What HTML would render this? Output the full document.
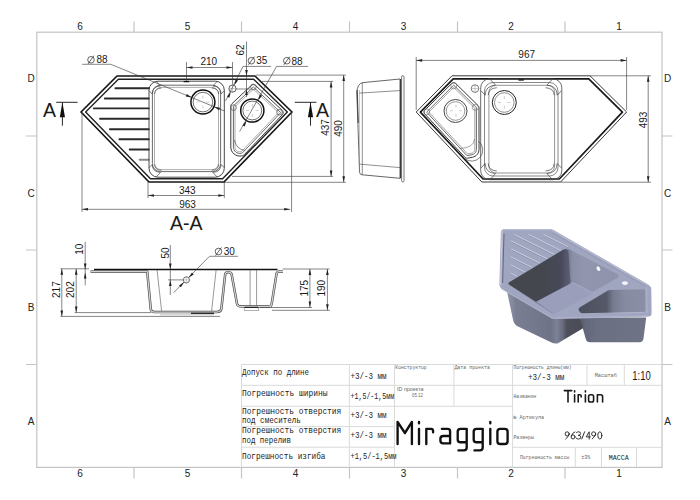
<!DOCTYPE html>
<html><head><meta charset="utf-8"><style>
html,body{margin:0;padding:0;background:#fff;}
svg{display:block;}
text{font-family:"Liberation Sans",sans-serif;}
.mono text{font-family:"Liberation Mono",monospace;}
</style></head><body>
<svg width="700" height="500" viewBox="0 0 700 500">
<rect width="700" height="500" fill="#fff"/>
<!-- frame -->
<g stroke="#c4c4c4" stroke-width="1.2" fill="none">
<rect x="36.8" y="32.2" width="625.2" height="435.2"/>
<path d="M134 21.5V32.2M241.5 21.5V32.2M349.5 21.5V32.2M457.5 21.5V32.2M565 21.5V32.2"/>
<path d="M134 467.4V478.5M241.5 467.4V478.5M349.5 467.4V478.5M457.5 467.4V478.5M565 467.4V478.5"/>
<path d="M26 136H36.8M26 250H36.8M26 364.5H36.8"/>
<path d="M662 136H672.5M662 250H672.5M662 364.5H672.5"/>
</g>
<g fill="#222" font-size="10" text-anchor="middle">
<text x="80" y="30.4">6</text><text x="187.5" y="30.4">5</text><text x="295.5" y="30.4">4</text>
<text x="403.5" y="30.4">3</text><text x="511" y="30.4">2</text><text x="619" y="30.4">1</text>
<text x="80" y="476.8">6</text><text x="187.5" y="476.8">5</text><text x="295.5" y="476.8">4</text>
<text x="403.5" y="476.8">3</text><text x="511" y="476.8">2</text><text x="619" y="476.8">1</text>
<text x="31.2" y="81.8">D</text><text x="31.2" y="196.5">C</text><text x="31.2" y="311">B</text><text x="31.2" y="425">A</text>
<text x="667.6" y="81.8">D</text><text x="667.6" y="196.5">C</text><text x="667.6" y="311">B</text><text x="667.6" y="425">A</text>
</g>

<!-- title block -->
<g stroke="#dadada" stroke-width="1" fill="none">
<path d="M241.5 364.5H662M241.5 385.3H662M241.5 406.3H512.6M241.5 426.6H394.5M241.5 447.2H394.5M512.6 447.3H662"/>
<path d="M241.5 364.5V467.4M349.4 364.5V467.4M394.5 364.5V467.4M453.9 364.5V406.3M512.6 364.5V467.4M587 364.5V385.3M624.3 364.5V385.3M575.3 447.3V467.4M601.5 447.3V467.4M636.5 447.3V467.4"/>
</g>
<g class="mono" fill="#222" font-size="8.4">
<text x="242" y="375.1" textLength="67" lengthAdjust="spacingAndGlyphs">Допуск по длине</text>
<text x="242" y="395.7" textLength="85.5" lengthAdjust="spacingAndGlyphs">Погрешность ширины</text>
<text x="242" y="414.2" textLength="99.3" lengthAdjust="spacingAndGlyphs">Погрешность отверстия</text>
<text x="242" y="422.9" textLength="58.9" lengthAdjust="spacingAndGlyphs">под смеситель</text>
<text x="242" y="433.1" textLength="99.3" lengthAdjust="spacingAndGlyphs">Погрешность отверстия</text>
<text x="242" y="442.7" textLength="49" lengthAdjust="spacingAndGlyphs">под перелив</text>
<text x="242" y="459" textLength="83.5" lengthAdjust="spacingAndGlyphs">Погрешность изгиба</text>
<text x="350.5" y="378.6" textLength="36" lengthAdjust="spacingAndGlyphs">+3/-3 мм</text>
<text x="350.5" y="399.2" textLength="43.7" lengthAdjust="spacingAndGlyphs">+1,5/-1,5мм</text>
<text x="350.5" y="418.3" textLength="36" lengthAdjust="spacingAndGlyphs">+3/-3 мм</text>
<text x="350.5" y="438.2" textLength="36" lengthAdjust="spacingAndGlyphs">+3/-3 мм</text>
<text x="350.5" y="459" textLength="46" lengthAdjust="spacingAndGlyphs">+1,5/-1,5мм</text>
<text x="527.9" y="379.8" textLength="36.5" lengthAdjust="spacingAndGlyphs">+3/-3 мм</text>
<text x="608.8" y="459.9" font-size="7.2" textLength="20" lengthAdjust="spacingAndGlyphs">МАССА</text>
</g><path d="M397.6,444V421.9L404.9,433L411.9,421.9V444M419,428.8V444M419,421.9V423.3M426.3,444V428.8H431Q433.1,428.8 433.1,431V432.2M441.9,428.8H447.6Q450.1,428.8 450.1,431.3V443.4H443.2Q440.4,443.4 440.4,440.6V438.8Q440.4,436 443.2,436H450.1M466.7,442.2H460.5Q457.7,442.2 457.7,439.4V431.6Q457.7,428.8 460.5,428.8H466.7V447.6Q466.7,450.4 463.9,450.4H458.5M482.7,442.2H476.5Q473.7,442.2 473.7,439.4V431.6Q473.7,428.8 476.5,428.8H482.7V447.6Q482.7,450.4 479.9,450.4H474.5M490.3,428.8V444M490.3,421.9V423.3M500.2,428.8H504.8Q507.6,428.8 507.6,431.6V441.2Q507.6,444 504.8,444H500.2Q497.4,444 497.4,441.2V431.6Q497.4,428.8 500.2,428.8Z" fill="none" stroke="#111" stroke-width="2.35" stroke-linecap="round" stroke-linejoin="round"/><g class="mono" fill="#222" font-size="8.4">
</g>
<g class="mono" fill="#666" font-size="4.8">
<text x="395.3" y="368.8" textLength="31.4" lengthAdjust="spacingAndGlyphs">Конструктор</text>
<text x="454.4" y="368.8" textLength="35.5" lengthAdjust="spacingAndGlyphs">Дата проекта</text>
<text x="513.4" y="369.3" textLength="58.2" lengthAdjust="spacingAndGlyphs">Погрешность длины(мм)</text>
<text x="594.7" y="376.9" textLength="22.3" lengthAdjust="spacingAndGlyphs">Масштаб</text>
<text x="513.4" y="398" textLength="23" lengthAdjust="spacingAndGlyphs">Название</text>
<text x="513.4" y="418.6" textLength="30.8" lengthAdjust="spacingAndGlyphs">№ Артикула</text>
<text x="513.4" y="439.3" textLength="20.6" lengthAdjust="spacingAndGlyphs">Размеры</text>
<text x="519.9" y="459.2" textLength="49.3" lengthAdjust="spacingAndGlyphs">Погрешность массы</text>
<text x="581.3" y="459.2" textLength="9" lengthAdjust="spacingAndGlyphs">±3%</text>
</g>
<path d="M564.3,390.6H571.8M568,390.6V402M574.6,394.8V402M574.6,390.7V391.9M578.2,402V394.8H579.9Q581.2,394.8 581.2,396.1V396.9M585.4,394.8V402M585.4,390.7V391.9M590.4,394.8H591.8Q593.6,394.8 593.6,396.6V400.2Q593.6,402 591.8,402H590.4Q588.6,402 588.6,400.2V396.6Q588.6,394.8 590.4,394.8ZM597.4,402V394.8H600.8Q602.6,394.8 602.6,396.6V402" fill="none" stroke="#1a1a1a" stroke-width="1.6" stroke-linecap="round" stroke-linejoin="round"/>
<text x="632.3" y="379.8" font-size="13.6" textLength="18.5" lengthAdjust="spacingAndGlyphs" fill="#1a1a1a">1:10</text>
<path d="M569.20,433.9A2.05,2.1 0 1 0 565.10,433.9A2.05,2.1 0 1 0 569.20,433.9ZM569.15,434.4Q568.70,436.8 565.70,439M574.9,431.9Q572,432.6 571.3,436.3M575,436.9A1.95,2.05 0 1 0 571.1,436.9A1.95,2.05 0 1 0 575,436.9ZM576.5,432.5Q577.3,431.8 578.6,431.8Q580.6,431.8 580.6,433.5Q580.6,435.2 578.2,435.3Q580.9,435.4 580.9,437.2Q580.9,439 578.5,439Q577.1,439 576.2,438.2M581.8,439L584.6,431.8M589.2,439V431.8L586.2,436.9H590.4M595.70,433.9A2.05,2.1 0 1 0 591.60,433.9A2.05,2.1 0 1 0 595.70,433.9ZM595.65,434.4Q595.20,436.8 592.20,439M601.9,435.4A2.05,3.6 0 1 0 597.8,435.4A2.05,3.6 0 1 0 601.9,435.4Z" fill="none" stroke="#2a2a2a" stroke-width="0.95" stroke-linecap="round" stroke-linejoin="round"/>
<text x="397" y="391" font-size="5.4" textLength="26.6" lengthAdjust="spacingAndGlyphs" fill="#666">ID проекта</text>
<text x="412" y="397.3" font-size="5.4" textLength="10.8" lengthAdjust="spacingAndGlyphs" fill="#666">05.12</text>

<path d="M117,76 L255,76 L292,112 L224,182 L149,182 L81,112Z" fill="none" stroke="#151515" stroke-width="1.7" stroke-linejoin="round"/>
<path d="M118.37,79.3 L85.63,112.03 L150.4,178.7 L222.6,178.7 L287.34,112.07 L253.66,79.3Z" fill="none" stroke="#222" stroke-width="1.4" stroke-linejoin="round"/>
<path d="M115.4,88.3H148.8" stroke="#2a2a2a" stroke-width="1.9" stroke-linecap="round"/>
<path d="M104.8,98.5H148.8" stroke="#2a2a2a" stroke-width="1.9" stroke-linecap="round"/>
<path d="M93.8,108.4H148.8" stroke="#2a2a2a" stroke-width="1.9" stroke-linecap="round"/>
<path d="M100,118.7H148.8" stroke="#2a2a2a" stroke-width="1.9" stroke-linecap="round"/>
<path d="M109.9,129.3H148.8" stroke="#2a2a2a" stroke-width="1.9" stroke-linecap="round"/>
<path d="M119.4,139.2H148.8" stroke="#2a2a2a" stroke-width="1.9" stroke-linecap="round"/>
<path d="M129.7,149.5H148.8" stroke="#2a2a2a" stroke-width="1.9" stroke-linecap="round"/>
<path d="M139.6,159.8H148.8" stroke="#888" stroke-width="1.9" stroke-linecap="round"/>
<path d="M158,81.2H215.3A9,9 0 0 1 224.3,90.2V168.2A9,9 0 0 1 215.3,177.2H158A9,9 0 0 1 149,168.2V90.2A9,9 0 0 1 158,81.2Z" fill="none" stroke="#333" stroke-width="0.9"/>
<path d="M160.4,85.2H212.6A8,8 0 0 1 220.6,93.2V163.6A8,8 0 0 1 212.6,171.6H160.4A8,8 0 0 1 152.4,163.6V93.2A8,8 0 0 1 160.4,85.2Z" fill="none" stroke="#444" stroke-width="0.8"/>
<path d="M161,87.4H212A6.5,6.5 0 0 1 218.5,93.9V163.1A6.5,6.5 0 0 1 212,169.6H161A6.5,6.5 0 0 1 154.5,163.1V93.9A6.5,6.5 0 0 1 161,87.4Z" fill="none" stroke="#777" stroke-width="0.6"/>
<path d="M183.6,81.6H189.3" stroke="#111" stroke-width="1.3"/>
<circle cx="202.9" cy="102.1" r="12" fill="#fff" stroke="#111" stroke-width="1.5"/>
<circle cx="202.9" cy="102.1" r="9.8" fill="none" stroke="#333" stroke-width="0.7"/>
<path d="M202.9,95.5v3M202.9,105.5v3M196.5,102.1h3M206.3,102.1h3" stroke="#999" stroke-width="0.5"/>
<path d="M251.35,85.43 L251.8,85.08 L252.3,84.83 L252.84,84.67 L253.4,84.61 L253.96,84.66 L254.51,84.82 L255.01,85.07 L255.46,85.42 L282.28,110.43 L282.67,110.88 L282.97,111.39 L283.16,111.95 L283.23,112.54 L283.19,113.13 L283.04,113.7 L282.77,114.23 L282.41,114.7 L244.38,154.58 L244.16,154.8 L243.92,154.99 L243.67,155.17 L243.41,155.33 L243.13,155.46 L242.85,155.58 L242.55,155.67 L242.25,155.75 L241.54,155.89 L239.56,156.05 L237.6,155.78 L235.74,155.09 L234.08,154.01 L232.7,152.59 L231.66,150.9 L231.02,149.03 L230.8,147.06 L230.8,106.09 L230.82,105.79 L230.86,105.49 L230.94,105.19 L231.05,104.91 L231.18,104.63 L231.34,104.37 L231.53,104.13 L231.74,103.91Z" fill="none" stroke="#222" stroke-width="0.9"/><path d="M253.05,87.41 L233.57,105.76 L233.5,105.84 L233.48,105.87 L233.45,105.9 L233.44,105.94 L233.42,105.98 L233.41,106.01 L233.41,106.05 L233.4,106.16 L233.4,146.91 L233.57,148.45 L234.03,149.78 L234.76,150.98 L235.75,151.99 L236.92,152.75 L238.24,153.25 L239.63,153.44 L241.18,153.31 L241.7,153.2 L241.86,153.17 L241.96,153.13 L242.06,153.09 L242.15,153.05 L242.25,152.99 L242.33,152.93 L242.42,152.86 L242.53,152.75 L280.44,112.99 L280.56,112.83 L280.6,112.76 L280.62,112.69 L280.62,112.61 L280.61,112.54 L280.59,112.47 L280.55,112.4 L280.41,112.24 L253.77,87.4 L253.62,87.28 L253.55,87.25 L253.48,87.23 L253.41,87.22 L253.34,87.23 L253.27,87.25 L253.2,87.28Z" fill="none" stroke="#444" stroke-width="0.8"/><path d="M235,106.61 L235,146.82 L235.14,148.1 L235.48,149.09 L236.03,149.99 L236.77,150.74 L237.65,151.32 L238.63,151.69 L239.67,151.83 L240.95,151.72 L241.36,151.64 L241.38,151.64 L241.39,151.62 L278.53,112.68 L253.42,89.26Z" fill="none" stroke="#777" stroke-width="0.6"/>
<g fill="none" stroke="#555" stroke-width="0.7"><circle cx="253.4" cy="87" r="2.8"/><circle cx="233.6" cy="107.6" r="2.8"/><circle cx="279.5" cy="112.3" r="2.8"/><path d="M234.5,140Q236,149 245,150.5"/></g>
<path d="M152.2,94Q152.4,86.3 160.5,86M154.6,94Q154.8,88.5 161.5,88M148.9,90.5L152.2,94M156,81.2L160.5,86M152.2,164.4Q152.4,172.1 160.5,172.4M154.6,164.4Q154.8,169.9 161.5,170.4M148.9,167.9L152.2,164.4M156,177.2L160.5,172.4M221.1,94Q220.9,86.3 212.8,86M218.7,94Q218.5,88.5 211.8,88M224.4,90.5L221.1,94M217.3,81.2L212.8,86M221.1,164.4Q220.9,172.1 212.8,172.4M218.7,164.4Q218.5,169.9 211.8,170.4M224.4,167.9L221.1,164.4M217.3,177.2L212.8,172.4" fill="none" stroke="#444" stroke-width="0.7"/>
<circle cx="252.3" cy="110.5" r="11.6" fill="#fff" stroke="#111" stroke-width="1.5"/>
<circle cx="252.3" cy="110.5" r="9.4" fill="none" stroke="#333" stroke-width="0.7"/>
<path d="M252.3,104v3M252.3,114v3M246,110.5h3M255.6,110.5h3" stroke="#999" stroke-width="0.5"/>
<circle cx="232.5" cy="88.6" r="3.6" fill="none" stroke="#333" stroke-width="0.8"/>
<path d="M228.5,88.6h8M232.5,84.6v8" stroke="#777" stroke-width="0.4"/>
<g stroke="#333" stroke-width="0.6" fill="none"><path d="M82,112V212M291.6,112V212M148,182V198M224.3,182V198" /><path d="M82,209.3H290.2M148,195.5H224.3"/><path d="M256,75.1H345.8M262,81.4H333.2M232,176.4H333M224.3,182.3H345.8"/><path d="M343.7,75.1V182.3M331.1,81.4V176.4"/><path d="M186.5,62V81M232.5,62V84.5M186.5,67.5H232.5"/><path d="M246.5,41.5V97M236,89H250"/><path d="M82.1,64.3H110.8L224.5,111"/><path d="M271,66.4H243L225.5,101"/><path d="M308,66.4H276.6L239.6,131.5"/></g>
<path d="M82,209.3L88,208L88,210.6Z" fill="#222"/><path d="M290.2,209.3L284.2,210.6L284.2,208Z" fill="#222"/><path d="M148,195.5L154,194.2L154,196.8Z" fill="#222"/><path d="M224.3,195.5L218.3,196.8L218.3,194.2Z" fill="#222"/><path d="M343.7,75.1L345,81.1L342.4,81.1Z" fill="#222"/><path d="M343.7,182.3L342.4,176.3L345,176.3Z" fill="#222"/><path d="M331.1,81.4L332.4,87.4L329.8,87.4Z" fill="#222"/><path d="M331.1,176.4L329.8,170.4L332.4,170.4Z" fill="#222"/><path d="M186.5,67.5L192.5,66.2L192.5,68.8Z" fill="#222"/><path d="M232.5,67.5L226.5,68.8L226.5,66.2Z" fill="#222"/><path d="M246.5,76L245.2,70L247.8,70Z" fill="#222"/><path d="M246.5,89L247.8,95L245.2,95Z" fill="#222"/><path d="M191.8,97.54L185.76,96.46L186.74,94.06Z" fill="#222"/><path d="M214,106.66L220.04,107.74L219.06,110.14Z" fill="#222"/><path d="M234.12,85.39L235.67,79.45L237.99,80.62Z" fill="#222"/><path d="M230.88,91.81L229.33,97.75L227.01,96.58Z" fill="#222"/><path d="M258.03,100.42L259.87,94.56L262.13,95.84Z" fill="#222"/><path d="M246.57,120.58L244.73,126.44L242.47,125.16Z" fill="#222"/>
<g fill="#1a1a1a"><text x="187.3" y="193.6" text-anchor="middle" font-size="10">343</text><text x="187.5" y="208" text-anchor="middle" font-size="10">963</text><text x="208.8" y="65.1" text-anchor="middle" font-size="10">210</text><text transform="translate(244.4,49.9) rotate(-90)" text-anchor="middle" font-size="10">62</text><text x="256.3" y="64" font-size="10">35</text><text x="291.4" y="64.5" font-size="10">88</text><text x="96.5" y="63.3" font-size="10">88</text><text transform="translate(329,127.5) rotate(-90)" text-anchor="middle" font-size="10">437</text><text transform="translate(341.8,128.5) rotate(-90)" text-anchor="middle" font-size="10">490</text><text x="186.3" y="230" text-anchor="middle" font-size="19.5">A-A</text><text x="43" y="116.7" font-size="19.5">A</text><text x="316" y="116.7" font-size="19.5">A</text></g>
<circle cx="91" cy="59.8" r="3.3" fill="none" stroke="#222" stroke-width="0.7"/><path d="M88.03,63.92L93.97,55.67" stroke="#222" stroke-width="0.7"/>
<circle cx="251.4" cy="60.7" r="3.3" fill="none" stroke="#222" stroke-width="0.7"/><path d="M248.43,64.83L254.37,56.58" stroke="#222" stroke-width="0.7"/>
<circle cx="286.8" cy="60.7" r="3.3" fill="none" stroke="#222" stroke-width="0.7"/><path d="M283.83,64.83L289.77,56.58" stroke="#222" stroke-width="0.7"/>
<path d="M56.2,102.3H77.6M62.4,102.3V125.7M294.8,102.3H316.4M310.5,102.3V125.7" stroke="#111" stroke-width="0.9" fill="none"/>
<path d="M62.4,102.3L65,117.3L59.8,117.3Z" fill="#111"/>
<path d="M310.5,102.3L313.1,117.3L307.9,117.3Z" fill="#111"/>
<path d="M416.2,112 L452,75.8 L590,75.8 L626.6,112 L560.6,182 L481.8,182Z" fill="none" stroke="#222" stroke-width="0.9" stroke-linejoin="round"/>
<path d="M420.36,112.06 L483.1,179 L559.31,179 L622.41,112.07 L588.77,78.8 L453.25,78.8Z" fill="none" stroke="#1a1a1a" stroke-width="1.7" stroke-linejoin="round"/>
<path d="M489.7,78.8H552.8A9,9 0 0 1 561.8,87.8V170.7A9,9 0 0 1 552.8,179.7H489.7A9,9 0 0 1 480.7,170.7V87.8A9,9 0 0 1 489.7,78.8Z" fill="none" stroke="#444" stroke-width="0.8"/>
<path d="M493,82.5H549.5A8.5,8.5 0 0 1 558,91V167.5A8.5,8.5 0 0 1 549.5,176H493A8.5,8.5 0 0 1 484.5,167.5V91A8.5,8.5 0 0 1 493,82.5Z" fill="none" stroke="#555" stroke-width="0.7"/>
<path d="M495.9,85.3H547.6A7,7 0 0 1 554.6,92.3V166A7,7 0 0 1 547.6,173H495.9A7,7 0 0 1 488.9,166V92.3A7,7 0 0 1 495.9,85.3Z" fill="none" stroke="#666" stroke-width="0.7"/>
<path d="M518.4,80H523.8" stroke="#111" stroke-width="1.3"/>
<circle cx="504.3" cy="102.5" r="12" fill="none" stroke="#222" stroke-width="1"/>
<circle cx="504.3" cy="102.5" r="9.8" fill="none" stroke="#444" stroke-width="0.6"/>
<path d="M504.3,96.2v3M504.3,105.7v3M498,102.5h3M507.5,102.5h3" stroke="#999" stroke-width="0.5"/>
<path d="M451.59,83.59 L452.04,83.23 L452.56,82.95 L453.12,82.78 L453.7,82.72 L454.28,82.78 L454.84,82.95 L455.36,83.22 L455.81,83.59 L478.11,105.62 L478.31,105.84 L478.49,106.08 L478.64,106.33 L478.77,106.6 L478.87,106.88 L478.94,107.16 L478.99,107.46 L479,107.75 L479,149.39 L478.88,150.77 L478.53,152.1 L477.95,153.35 L477.17,154.49 L476.2,155.47 L475.08,156.27 L473.84,156.87 L472.51,157.25 L467.64,158.19 L467.26,158.23 L466.88,158.23 L466.5,158.18 L466.13,158.09 L465.78,157.95 L465.45,157.76 L465.14,157.54 L464.87,157.28 L424.97,114.13 L424.62,113.67 L424.36,113.15 L424.21,112.6 L424.17,112.02 L424.24,111.45 L424.41,110.91 L424.69,110.4 L425.05,109.96Z" fill="none" stroke="#222" stroke-width="0.9"/><path d="M453.33,85.53 L426.97,111.72 L426.85,111.87 L426.81,111.94 L426.79,112.01 L426.78,112.08 L426.79,112.15 L426.8,112.23 L426.84,112.29 L426.96,112.45 L466.72,155.45 L466.82,155.54 L466.86,155.57 L466.9,155.6 L466.95,155.61 L467,155.63 L467.05,155.63 L467.1,155.63 L467.23,155.62 L471.91,154.72 L472.91,154.43 L473.75,154.03 L474.5,153.49 L475.16,152.82 L475.68,152.06 L476.07,151.22 L476.31,150.32 L476.4,149.28 L476.4,107.82 L476.39,107.71 L476.39,107.68 L476.38,107.64 L476.37,107.6 L476.35,107.56 L476.33,107.53 L476.31,107.5 L476.24,107.42 L454.08,85.53 L453.92,85.4 L453.85,85.36 L453.78,85.34 L453.71,85.34 L453.63,85.34 L453.56,85.36 L453.49,85.4Z" fill="none" stroke="#444" stroke-width="0.8"/><path d="M428.83,112.12 L467.5,153.93 L471.54,153.16 L472.34,152.93 L472.93,152.65 L473.46,152.27 L473.92,151.8 L474.29,151.27 L474.56,150.67 L474.73,150.04 L474.8,149.21 L474.8,108.25 L453.71,87.41Z" fill="none" stroke="#666" stroke-width="0.6"/>
<g fill="none" stroke="#666" stroke-width="0.6"><circle cx="453.7" cy="85.8" r="3"/><circle cx="475.3" cy="107.4" r="3"/><circle cx="426.7" cy="111.9" r="3"/><path d="M474.5,139Q474,148 459.5,148.5"/><path d="M478.8,141.5A11,11 0 0 1 464.5,158.5" stroke="#333"/></g>
<path d="M485.2,95.2Q485.45,85.58 495.57,85.2M488.2,95.2Q488.45,88.33 496.82,87.7M481.07,90.83L485.2,95.2M489.95,79.2L495.57,85.2M485.2,163.5Q485.45,173.12 495.57,173.5M488.2,163.5Q488.45,170.38 496.82,171M481.07,167.88L485.2,163.5M489.95,179.5L495.57,173.5M557.2,95.2Q556.95,85.58 546.83,85.2M554.2,95.2Q553.95,88.33 545.58,87.7M561.33,90.83L557.2,95.2M552.45,79.2L546.83,85.2M557.2,163.5Q556.95,173.12 546.83,173.5M554.2,163.5Q553.95,170.38 545.58,171M561.33,167.88L557.2,163.5M552.45,179.5L546.83,173.5" fill="none" stroke="#444" stroke-width="0.7"/>
<circle cx="455.5" cy="111" r="11.5" fill="none" stroke="#333" stroke-width="0.9"/>
<circle cx="455.5" cy="111" r="9.3" fill="none" stroke="#555" stroke-width="0.6"/>
<path d="M456,104.5v3M456,114v3M450,110.7h3M459,110.7h3" stroke="#999" stroke-width="0.5"/>
<circle cx="475" cy="88.6" r="3.8" fill="none" stroke="#444" stroke-width="0.7"/><path d="M471,88.6h8M475,84.6v8" stroke="#777" stroke-width="0.4"/>
<g stroke="#333" stroke-width="0.6" fill="none"><path d="M416.2,57V110M626.6,57V110M416.2,60.4H626.6M590,75.8H651M560.6,182.2H651M648.2,75.8V182.2"/></g>
<path d="M416.2,60.4L422.2,59.1L422.2,61.7Z" fill="#222"/><path d="M626.6,60.4L620.6,61.7L620.6,59.1Z" fill="#222"/><path d="M648.2,75.8L649.5,81.8L646.9,81.8Z" fill="#222"/><path d="M648.2,182.2L646.9,176.2L649.5,176.2Z" fill="#222"/>
<g fill="#1a1a1a"><text x="526.7" y="58.2" text-anchor="middle" font-size="10">967</text><text transform="translate(647,120) rotate(-90)" text-anchor="middle" font-size="10">493</text></g>
<rect x="399.6" y="79" width="1.9" height="99.3" fill="#3a3a3a"/>
<path d="M401.6,77Q401.6,75.6 402.8,75.6Q404,75.6 404,77V180.6Q404,182 402.8,182Q401.6,182 401.6,180.6Z" fill="#fff" stroke="#444" stroke-width="0.7"/>
<path d="M400,79L363,82.6Q359.8,83 358.6,85.5Q357,88.5 356.8,92L359.6,172.5Q359.9,174.5 362,174.8L400,178.3" fill="none" stroke="#333" stroke-width="0.75"/>
<path d="M359.3,93.1L400,90.6M359.3,164.1L400,167.6M362.3,83V174.6" fill="none" stroke="#444" stroke-width="0.6"/>
<path d="M359.4,90V172" fill="none" stroke="#888" stroke-width="0.5"/><path d="M357.2,90L358.2,123" fill="none" stroke="#444" stroke-width="1.1"/>
<path d="M90.5,271.4H147.2L150.8,309.6Q151.3,312 154.5,312.1H216.5Q221,312 221.4,308.5L225.2,274.2Q225.5,272.2 228.3,272.2Q231,272.2 231.6,274.2L237,303.8Q237.7,306.6 241.5,306.6H268.5Q271.3,306.6 271.7,303.6L276.6,273.4Q277,271.6 279.5,271.4H283" stroke="#4a4a4a" stroke-width="2.5" fill="none" stroke-linejoin="round"/><path d="M90.5,271.4H147.2L150.8,309.6Q151.3,312 154.5,312.1H216.5Q221,312 221.4,308.5L225.2,274.2Q225.5,272.2 228.3,272.2Q231,272.2 231.6,274.2L237,303.8Q237.7,306.6 241.5,306.6H268.5Q271.3,306.6 271.7,303.6L276.6,273.4Q277,271.6 279.5,271.4H283" stroke="#d4d4d4" stroke-width="1.2" fill="none" stroke-linejoin="round"/><path d="M94,269.6H277.5" stroke="#111" stroke-width="1.5" fill="none"/><path d="M157.1,270.2L161.6,311M216.1,270.2L211.6,311M250.1,270.2V305.5M256.6,270.2V305.5" stroke="#444" stroke-width="0.55" fill="none"/><path d="M191,313.3H214" stroke="#222" stroke-width="1.3"/><path d="M160,314.8H214" stroke="#999" stroke-width="0.6"/><path d="M244.3,307.4H258.5" stroke="#222" stroke-width="1.2"/><path d="M244.3,310.5H258.5M244.3,307V310.8M258.5,307V310.8" stroke="#666" stroke-width="0.5"/>
<g stroke="#333" stroke-width="0.6" fill="none"><path d="M60.5,268.8H89M74.7,312.6H151M60.5,316.4H220M282.6,269H329.5M260,307.5H312M272,310.3H330"/><path d="M61.8,268.8V316.4M76.2,268.8V312.6M85.2,241.7V285.4M170.3,245V294.9M309.9,269V307.5M327.4,269V310.3"/><path d="M167.9,279.9H183.3M238,256.3H209.5L173.6,292.7"/></g>
<circle cx="186.4" cy="279.9" r="3.1" fill="#fff" stroke="#333" stroke-width="0.7"/><path d="M182.5,279.9h8M186.4,276v8" stroke="#888" stroke-width="0.4"/>
<path d="M61.8,268.8L63.1,274.8L60.5,274.8Z" fill="#222"/><path d="M61.8,316.4L60.5,310.4L63.1,310.4Z" fill="#222"/><path d="M76.2,268.8L77.5,274.8L74.9,274.8Z" fill="#222"/><path d="M76.2,312.6L74.9,306.6L77.5,306.6Z" fill="#222"/><path d="M85.2,269.4L83.9,263.4L86.5,263.4Z" fill="#222"/><path d="M85.2,272.6L86.5,278.6L83.9,278.6Z" fill="#222"/><path d="M170.3,269.4L169,263.4L171.6,263.4Z" fill="#222"/><path d="M170.3,279.9L171.6,285.9L169,285.9Z" fill="#222"/><path d="M309.9,269L311.2,275L308.6,275Z" fill="#222"/><path d="M309.9,307.5L308.6,301.5L311.2,301.5Z" fill="#222"/><path d="M327.4,269L328.7,275L326.1,275Z" fill="#222"/><path d="M327.4,310.3L326.1,304.3L328.7,304.3Z" fill="#222"/><path d="M188.6,277.7L191.92,272.54L193.76,274.38Z" fill="#222"/><path d="M184.2,282.1L180.88,287.26L179.04,285.42Z" fill="#222"/>
<g fill="#1a1a1a" font-size="10"><text transform="translate(59.9,289.6) rotate(-90)" text-anchor="middle">217</text><text transform="translate(74.3,289.6) rotate(-90)" text-anchor="middle">202</text><text transform="translate(82.7,249.3) rotate(-90)" text-anchor="middle">10</text><text transform="translate(168.6,252.9) rotate(-90)" text-anchor="middle">50</text><text transform="translate(307.8,288.2) rotate(-90)" text-anchor="middle">175</text><text transform="translate(324.6,288.2) rotate(-90)" text-anchor="middle">190</text><text x="223.7" y="255">30</text></g>
<circle cx="218.5" cy="251.5" r="3.3" fill="none" stroke="#222" stroke-width="0.7"/><path d="M215.53,255.62L221.47,247.38" stroke="#222" stroke-width="0.7"/>
<g id="r3d">
<defs>
<linearGradient id="gbig" x1="507" y1="0" x2="580" y2="0" gradientUnits="userSpaceOnUse">
<stop offset="0" stop-color="#8e92a9"/><stop offset="0.07" stop-color="#868aa0"/><stop offset="0.12" stop-color="#7a7e93"/><stop offset="0.6" stop-color="#6f7387"/><stop offset="0.68" stop-color="#7e8297"/><stop offset="0.76" stop-color="#6a6d7f"/><stop offset="0.82" stop-color="#4d4f5a"/><stop offset="1" stop-color="#4a4c57"/>
</linearGradient>
<linearGradient id="gsb" x1="580" y1="0" x2="646" y2="0" gradientUnits="userSpaceOnUse">
<stop offset="0" stop-color="#55586a"/><stop offset="0.08" stop-color="#63677a"/><stop offset="0.25" stop-color="#6b6f82"/><stop offset="1" stop-color="#6f7386"/>
</linearGradient>
<linearGradient id="gsmall" x1="579" y1="0" x2="645" y2="0" gradientUnits="userSpaceOnUse">
<stop offset="0" stop-color="#4c4f5c"/><stop offset="0.42" stop-color="#565969"/><stop offset="0.52" stop-color="#777b91"/><stop offset="0.7" stop-color="#878ba2"/><stop offset="1" stop-color="#8b8fa6"/>
</linearGradient>
<linearGradient id="gback" x1="566" y1="0" x2="620" y2="0" gradientUnits="userSpaceOnUse">
<stop offset="0" stop-color="#6d7085"/><stop offset="0.12" stop-color="#8a8ea6"/><stop offset="0.3" stop-color="#9195ad"/><stop offset="1" stop-color="#8f93ac"/>
</linearGradient>
<linearGradient id="gdk" x1="545" y1="0" x2="571" y2="0" gradientUnits="userSpaceOnUse">
<stop offset="0" stop-color="#45474f"/><stop offset="0.6" stop-color="#47495a"/><stop offset="1" stop-color="#5f6276"/>
</linearGradient>
</defs>
<path d="M501.5,287 L507,291.6 L513.2,320.5 Q514.2,324.5 518,326.5 L551,342.3 Q554.2,343.9 557.5,343.4 L583.5,328 L580,317.5 L555,318 Z" fill="url(#gbig)"/>
<path d="M579.8,317.5 L585.8,339 Q586.6,342.2 590,342.2 L639.5,342.2 Q643,342.2 643.5,338.5 L646.2,317.5 Z" fill="url(#gsb)"/>
<path d="M503.5,229.3 L551,229.3 Q552.5,229.4 554,230.2 L648.2,284.6 Q651.2,286.4 651.3,289.5 L651.6,313 Q651.6,316.5 648.5,316.6 L581,318.4 L557,318.9 Q553.2,319 550.5,317.6 L502.5,289.2 Q499.4,287.4 499.4,284 L500.9,231.8 Q501,229.3 503.5,229.3 Z" fill="#a0a5c0"/>
<path d="M502.2,230.3 L500.6,285" stroke="#c2c6d9" stroke-width="1.3" fill="none"/>
<path d="M503.5,229.8 L551,229.8 L648.5,285.6" stroke="#b8bcd1" stroke-width="1.1" fill="none"/>
<path d="M504,233.6 L502.6,283" stroke="#5d6075" stroke-width="0.9" fill="none"/>
<path d="M551.5,232.3 L646,286.5" stroke="#9094ad" stroke-width="0.6" fill="none"/>
<path d="M646.5,287 L647.2,313.5" stroke="#b2b6ca" stroke-width="0.9" fill="none"/>
<path d="M501,288.5 L552,318.2 L648,316" stroke="#b4b8cc" stroke-width="0.9" fill="none"/>
<path d="M514.2,234.4L554.46,254.53M528.6,234.4L561.03,250.62M543.6,234.4L567.88,246.54M511.2,240.8L547.25,258.82M511.2,248.8L539.94,263.17M510.8,256.8L532.46,267.63M510.8,265L524.97,272.09M510.8,273.2L517.49,276.54" stroke="#8c90aa" stroke-width="0.8" fill="none" transform="translate(0.4,1)"/>
<path d="M514.2,234.4L554.46,254.53M528.6,234.4L561.03,250.62M543.6,234.4L567.88,246.54M511.2,240.8L547.25,258.82M511.2,248.8L539.94,263.17M510.8,256.8L532.46,267.63M510.8,265L524.97,272.09M510.8,273.2L517.49,276.54" stroke="#c9cde0" stroke-width="1" fill="none"/>
<path d="M509,282.6 Q507.6,283.6 509.8,285 L551,312.4 Q553.5,314 556,312.6 L617.3,278 Q620.5,276 617.6,274.2 L570,249.8 Q566,247.8 562.4,250 Z" fill="url(#gback)"/>
<path d="M509,282.6 Q507.6,283.6 509.8,285 L536.2,301.8 L570.6,283.6 L568.5,252 Q567.5,248.5 563,250 Z" fill="url(#gdk)"/>
<path d="M536.2,301.8 L570.6,283.6 Q572.5,282.4 575,283.6 L593.4,293.5 L555.5,313 Q553.5,314 551.2,312.6 Z" fill="#9a9eba"/>
<path d="M570.6,283.6 Q572.5,282.2 575,283.6 L593.4,293.5" stroke="#aeb2c8" stroke-width="0.8" fill="none"/>
<path d="M579.6,307.5 Q577.6,309.2 579.6,311.6 Q580.6,314 583.5,314 L643.4,312.4 Q645.2,312.4 645.2,310.5 L645.2,291 Q645.2,289.2 643.4,289.2 L611,290 Q609,290 607.5,290.8 Z" fill="url(#gsmall)"/>
<path d="M581,313.8 L644,312.3" stroke="#b9bdd0" stroke-width="0.8" fill="none"/>
<ellipse cx="598.4" cy="268.7" rx="1.7" ry="2.5" fill="#f4f4f8" transform="rotate(-35 598.4 268.7)"/>
<ellipse cx="624.9" cy="283.1" rx="3" ry="1.8" fill="#f4f4f8"/>
</g>
</svg>
</body></html>
